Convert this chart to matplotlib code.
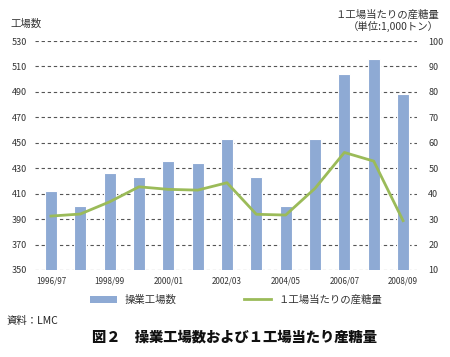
import matplotlib
matplotlib.use("Agg")
from matplotlib import pyplot as plt
from matplotlib.patches import Patch
from matplotlib.lines import Line2D
import numpy as np

plt.rcParams['font.family'] = ['Noto Sans CJK JP', 'DejaVu Sans']

# data
seasons = ['1996/97', '1997/98', '1998/99', '1999/00', '2000/01', '2001/02', '2002/03',
           '2003/04', '2004/05', '2005/06', '2006/07', '2007/08', '2008/09']
factories = [412, 400, 426, 423, 436, 434, 453, 423, 400, 453, 504, 516, 488]
output_per_factory = [31.2, 32.0, 36.8, 42.7, 41.7, 41.4, 44.3, 31.9, 31.6, 42.1, 56.2, 52.8, 29.4]

bar_color = '#8EAAD4'
line_color = '#9BBB59'
txt = '#333333'

fig = plt.figure(figsize=(4.5, 3.57), dpi=100)
ax = fig.add_axes([0.078, 0.2437, 0.849, 0.6413])
x = np.arange(len(seasons))

ax.bar(x, factories, width=0.41, color=bar_color, edgecolor='white', linewidth=0.8, zorder=3)
ax.set_ylim(350, 530)
ax.set_yticks(np.arange(350, 531, 20))
ax.set_xlim(-0.54, 12.48)
ax.set_xticks(x[::2])
ax.set_xticklabels(seasons[::2])
ax.grid(axis='y', color='#555555', linestyle=(0, (3, 2.5)), linewidth=0.8, zorder=0)
for s in ax.spines.values():
    s.set_visible(False)
ax.tick_params(axis='y', length=0, labelsize=6.5, labelcolor=txt, pad=6)
ax.tick_params(axis='x', length=0, labelsize=5.8, labelcolor=txt, pad=5)

ax2 = ax.twinx()
ax2.plot(x, output_per_factory, color=line_color, linewidth=2, zorder=4)
ax2.set_ylim(10, 100)
ax2.set_yticks(np.arange(10, 101, 10))
for s in ax2.spines.values():
    s.set_visible(False)
ax2.tick_params(axis='y', length=0, labelsize=6.5, labelcolor=txt, pad=8)

fig.text(0.024, 0.932, '工場数', fontsize=7.5, color=txt, va='center')
fig.text(0.975, 0.958, '１工場当たりの産糖量', fontsize=7.5, color=txt, ha='right', va='center')
fig.text(0.975, 0.927, '（単位:1,000トン）', fontsize=7.5, color=txt, ha='right', va='center')

handles = [Patch(facecolor=bar_color, edgecolor='none'),
           Line2D([0], [0], color=line_color, linewidth=2)]
fig.legend(handles, ['操業工場数', '１工場当たりの産糖量'], loc='center', ncol=2,
           bbox_to_anchor=(0.524, 0.16), frameon=False, fontsize=7.5, columnspacing=6.5,
           handlelength=2.6, handleheight=0.6, handletextpad=0.7, labelcolor=txt)

fig.text(0.015, 0.10, '資料：LMC', fontsize=7.5, color='#222222', va='center')
fig.text(0.52, 0.055, '図２　操業工場数および１工場当たり産糖量', fontsize=10.3, fontweight='heavy',
         ha='center', va='center', color='#111111')

fig.savefig('out.png', dpi=100)
